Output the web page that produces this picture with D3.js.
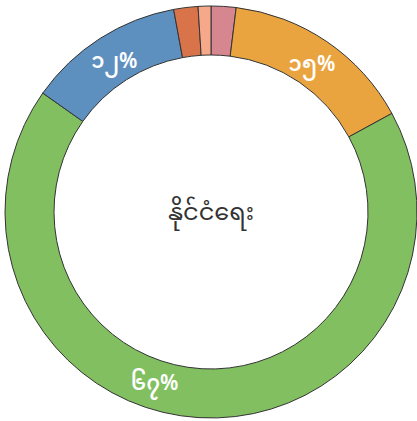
<!DOCTYPE html>
<html>
<head>
<meta charset="utf-8">
<script src="https://cdn.jsdelivr.net/npm/d3@7"></script>
<style>
  body { margin: 0; background: #fff; }
  svg { display: block; }
</style>
</head>
<body>
<svg id="chart"></svg>
<script>
// slices in clockwise order from 12 o'clock
var values = [1.95, 15.1, 67.7, 12.3, 1.9, 1.0]
var labels = ["", "၁၅%", "၆၇%", "၁၂%", "", ""]
var colors = ["#d5868f", "#eaa43f", "#82bf61", "#5d8fbf", "#d9744a", "#f5a98a"]
var centerText = "နိုင်ငံရေး"

var dimensions = {
    width: 417,
    height: 421,
    cx: 211,
    cy: 212,
    outer: 206,
    inner: 157
}
// the big label sits a little past the middle of its slice
var labelNudge = [0, 0, 15, 0, 0, 0]

var svg = d3.select("#chart")
            .attr("width", dimensions.width)
            .attr("height", dimensions.height)

var g = svg.append("g")
           .attr("transform", `translate(${dimensions.cx},${dimensions.cy})`)

var pie = d3.pie().sort(null).value(d => d)
var arcs = pie(values)

var arcGen = d3.arc()
               .innerRadius(dimensions.inner)
               .outerRadius(dimensions.outer)

g.selectAll(".slice")
 .data(arcs)
 .enter()
 .append("path")
 .attr("class", "slice")
 .attr("d", arcGen)
 .attr("fill", (d, i) => colors[i])
 .attr("stroke", "#333")
 .attr("stroke-width", 1)

var labelPos = function(d, i) {
    var r = (dimensions.inner + dimensions.outer) / 2 - 2
    var a = (d.startAngle + d.endAngle) / 2 + labelNudge[i] * Math.PI / 180
    return [r * Math.sin(a), -r * Math.cos(a)]
}

g.selectAll(".pct")
 .data(arcs)
 .enter()
 .append("text")
 .attr("class", "pct")
 .attr("transform", (d, i) => `translate(${labelPos(d, i)})`)
 .attr("text-anchor", "middle")
 .attr("dy", "0.35em")
 .attr("fill", "#fff")
 .style("font-family", "'Noto Sans Myanmar', 'Noto Sans', sans-serif")
 .style("font-size", "21px")
 .style("font-weight", "600")
 .text((d, i) => labels[i])

g.append("text")
 .attr("text-anchor", "middle")
 .attr("dy", "0.35em")
 .attr("fill", "#333")
 .style("font-family", "'Noto Sans Myanmar', 'Noto Sans', sans-serif")
 .style("font-size", "24px")
 .text(centerText)
</script>
</body>
</html>
